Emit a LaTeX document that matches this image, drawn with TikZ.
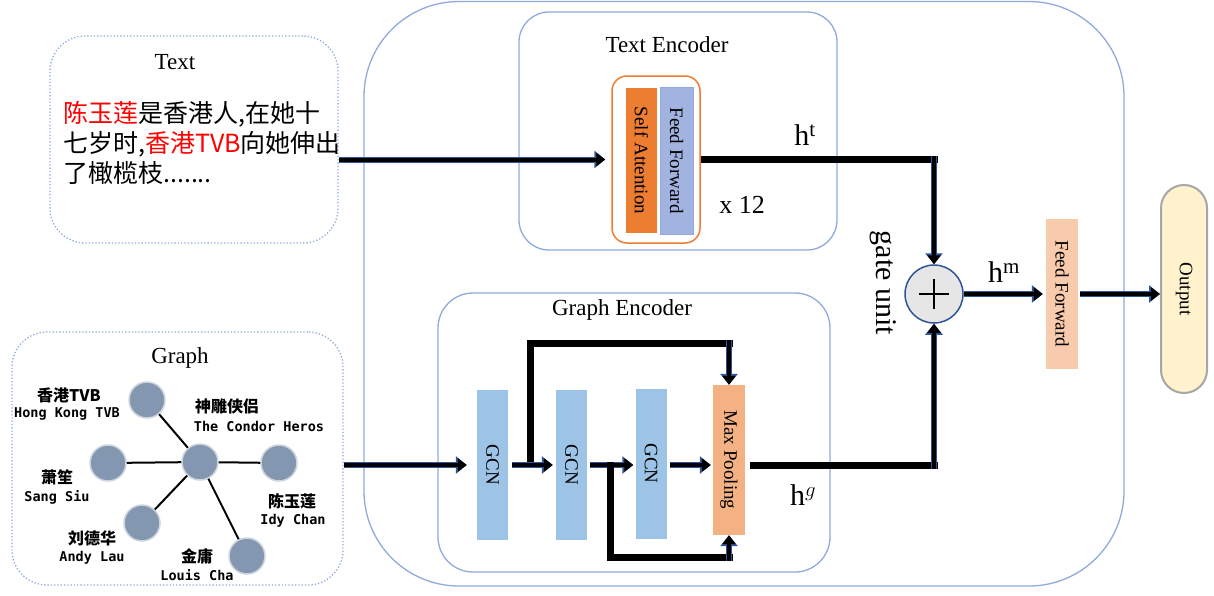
\documentclass[tikz,border=0pt]{standalone}
\usepackage{fontspec}
\setmainfont{Liberation Serif}
\newfontfamily\cjk{Noto Sans CJK SC}
\newfontfamily\monof{DejaVu Sans Mono}
\usetikzlibrary{arrows.meta}

\definecolor{boxblue}{HTML}{8FAADC}
\definecolor{navyc}{HTML}{2F5597}
\definecolor{nodegray}{HTML}{8497B0}
\definecolor{attn}{HTML}{ED7D31}
\definecolor{ffblue}{HTML}{A2B3E0}
\definecolor{gcnblue}{HTML}{9DC3E6}
\definecolor{pool}{HTML}{F4B183}
\definecolor{ffpeach}{HTML}{F8CBAD}
\definecolor{outyellow}{HTML}{FFF2CC}
\definecolor{gatefill}{HTML}{E7E6E6}

\tikzset{
  encbox/.style={draw=boxblue, line width=1.3pt, rounded corners=30, inner sep=0},
  dotbox/.style={draw=boxblue, dotted, line width=1.3pt, rounded corners=35, inner sep=0},
  title/.style={font=\fontsize{23}{26}\selectfont},
  bar/.style={inner sep=0, minimum width=31, minimum height=150, font=\fontsize{19}{21}\selectfont},
  ent/.style={circle, fill=nodegray, draw=nodegray!40, line width=1.5pt, minimum size=36, inner sep=0},
  zh/.style={font=\cjk\bfseries\fontsize{16}{18}\selectfont, inner sep=0},
  en/.style={font=\monof\bfseries\fontsize{13.5}{15}\selectfont, inner sep=0},
  edge/.style={line width=2pt, black},
  arr/.style={black, line width=4pt, -{Triangle[length=9pt,width=13pt]},
    preaction={draw=navyc, line width=6pt, -{Triangle[length=11pt,width=17pt]}}},
  fat/.style={line width=7pt, black},
  big/.style={font=\fontsize{30}{32}\selectfont, inner sep=0},
}

\begin{document}
\begin{tikzpicture}[x=1pt, y=-1pt]
\useasboundingbox (0,0) rectangle (1214,595);

% outer frame
\draw[boxblue, line width=1.3pt, rounded corners=95] (364,1.5) rectangle (1124,586);

% input boxes
\node[dotbox, minimum width=288, minimum height=207] (textbox) at (194,139.5) {};
\node[title] (textt) at (175,62) {Text};
\node[font=\cjk\fontsize{25}{30}\selectfont, anchor=base west, inner sep=0] (t1) at (63,122) {{\color{red}陈玉莲}是香港人,在她十};
\node[font=\cjk\fontsize{25}{30}\selectfont, anchor=base west, inner sep=0] (t2) at (63,152) {七岁时,{\color{red}香港TVB}向她伸出};
\node[font=\cjk\fontsize{25}{30}\selectfont, anchor=base west, inner sep=0] (t3) at (63,182) {了橄榄枝.......};

\node[dotbox, minimum width=331, minimum height=253] (graphbox) at (177.5,458.5) {};
\node[title] (grapht) at (180,358) {Graph};

% small graph
\node[ent] (hk) at (147,400) {};
\node[ent] (ss) at (108,463) {};
\node[ent] (ch) at (200,462) {};
\node[ent] (ic) at (279,463) {};
\node[ent] (al) at (142,523) {};
\node[ent] (lc) at (247,556) {};
\foreach \n in {hk,ss,ic,al,lc}
  \draw[edge] (ch) -- (\n);

\node[zh] (hkz) at (69,395) {香港TVB};
\node[en] (hke) at (67,414) {Hong Kong TVB};
\node[zh] (chz) at (227,406) {神雕侠侣};
\node[en] (che) at (259,426) {The Condor Heros};
\node[zh] (ssz) at (57,477) {萧笙};
\node[en] (sse) at (57,497) {Sang Siu};
\node[zh] (icz) at (292,501) {陈玉莲};
\node[en] (ice) at (293,521) {Idy Chan};
\node[zh] (alz) at (92,538) {刘德华};
\node[en] (ale) at (92,558) {Andy Lau};
\node[zh] (lcz) at (197,556) {金庸};
\node[en] (lce) at (197,575) {Louis Cha};

% text encoder
\node[encbox, minimum width=318, minimum height=238] (tenc) at (678,131) {};
\node[title] (tenct) at (667,45) {Text Encoder};
\node[draw=attn, line width=1.5pt, rounded corners=15, minimum width=88, minimum height=167, inner sep=0] (layer) at (656,159.5) {};
\node[bar, fill=attn, minimum height=145] (sa) at (641.5,160.5) {\rotatebox{-90}{Self Attention}};
\node[bar, fill=ffblue, draw=boxblue, minimum width=33, minimum height=147] (ffa) at (676.5,160.5) {\rotatebox{-90}{Feed Forward}};
\node[font=\fontsize{26}{28}\selectfont, inner sep=0] (rep) at (742,205) {x 12};

% graph encoder
\node[encbox, rounded corners=35, minimum width=392, minimum height=279] (genc) at (634,432.5) {};
\node[title] (genct) at (622,310) {Graph Encoder};
\node[bar, fill=gcnblue] (g1) at (492.5,465) {\rotatebox{-90}{GCN}};
\node[bar, fill=gcnblue] (g2) at (571.5,465) {\rotatebox{-90}{GCN}};
\node[bar, fill=gcnblue] (g3) at (651,463.5) {\rotatebox{-90}{GCN}};
\node[bar, fill=pool, minimum width=32] (mp) at (729,460) {\rotatebox{-90}{Max Pooling}};
\coordinate (k1) at (530,343);
\coordinate (k2) at (610,557);

% fusion
\node[circle, fill=gatefill, draw=navyc, line width=1.5pt, minimum size=58, inner sep=0] (gate) at (934,294) {};
\draw[line width=2.5pt] ([xshift=-15]gate.center) -- ([xshift=15]gate.center);
\draw[line width=2.5pt] ([yshift=-15]gate.center) -- ([yshift=15]gate.center);
\node[big, rotate=-90] (gatel) at (883,283) {gate unit};
\node[bar, fill=ffpeach, minimum width=32] (ffb) at (1062,294) {\rotatebox{-90}{Feed Forward}};
\node[draw=gray!70, fill=outyellow, line width=2pt, rounded corners=23, minimum width=46, minimum height=208, inner sep=0, font=\fontsize{19}{21}\selectfont] (out) at (1184,289) {\rotatebox{-90}{Output}};

% labels
\node[big] (ht) at (805,135) {h\textsuperscript{t}};
\node[big] (hg) at (803,495) {h$^{g}$};
\node[big] (hm) at (1004,272) {h\textsuperscript{m}};

% connectors
\draw[arr, shorten >=6pt] (textbox.east |- layer.west) -- (layer.west);
\draw[arr, shorten >=10pt] (graphbox.east |- g1.west) -- (g1.west);
\draw[arr, shorten <=4pt, shorten >=3pt] (g1.east) -- (g2.west);
\draw[arr, shorten <=3pt, shorten >=2pt] (g2.east) -- (g2.east -| g3.west);
\draw[arr, shorten <=3pt, shorten >=2pt] (g3.east |- g2.east) -- (g2.east -| mp.west);
\draw[fat] ([yshift=3pt]k1 |- g1.east) -- (k1) -- ([xshift=3.5pt]k1 -| mp.north);
\draw[arr] ([yshift=3.5pt]k1 -| mp.north) -- (mp.north);
\draw[fat] ([yshift=3pt]k2 |- g2.east) -- (k2) -- ([xshift=3.5pt]k2 -| mp.south);
\draw[arr] ([yshift=-3.5pt]k2 -| mp.south) -- (mp.south);

\draw[fat] (layer.east) -- ([xshift=3.5pt]layer.east -| gate.north);
\draw[arr] ([yshift=3.5pt]layer.east -| gate.north) -- (gate.north);
\draw[fat, shorten <=5pt] (mp.east |- g2.east) -- ([xshift=3.5pt]g2.east -| gate.south);
\draw[arr] ([yshift=-3.5pt]g2.east -| gate.south) -- (gate.south);
\draw[arr, shorten >=3pt] (gate.east) -- (ffb.west);
\draw[arr, shorten <=2pt] (ffb.east) -- (ffb.east -| out.west);
\end{tikzpicture}
\end{document}
